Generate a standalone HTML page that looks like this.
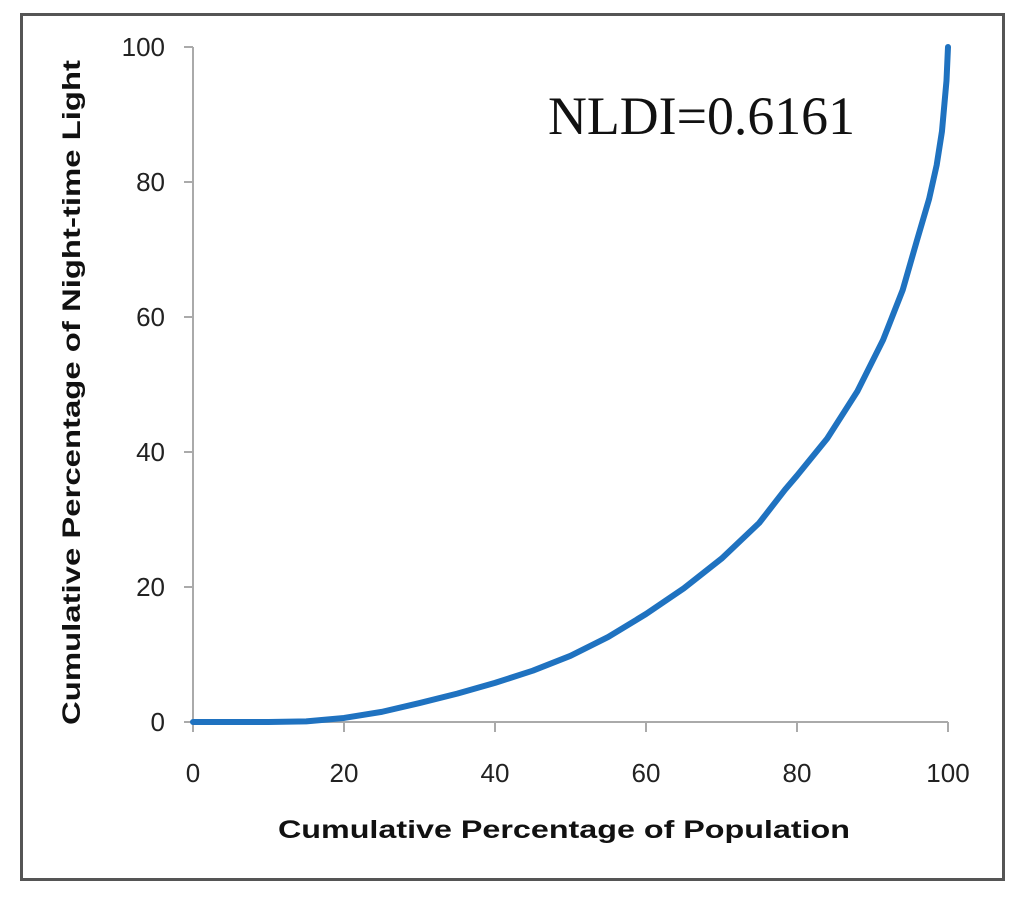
<!DOCTYPE html>
<html><head><meta charset="utf-8"><style>
body{margin:0;background:#fff;width:1024px;height:903px;overflow:hidden}
svg text{font-family:"Liberation Sans",sans-serif}
</style></head><body>
<svg width="1024" height="903">
<rect x="21.5" y="14.5" width="982" height="865" fill="#fff" stroke="#555" stroke-width="3"/>
<g id="axes"></g>
<path id="curve" fill="none" stroke="#1f72c0" stroke-width="6" stroke-linejoin="round" stroke-linecap="round"/>
<text x="548" y="134" style="font-family:'Liberation Serif',serif" font-size="54" textLength="307" lengthAdjust="spacingAndGlyphs" fill="#111">NLDI=0.6161</text>
<text x="278" y="838" font-size="25" font-weight="bold" textLength="572" lengthAdjust="spacingAndGlyphs" fill="#111">Cumulative Percentage of Population</text>
<text transform="translate(80,725) rotate(-90)" font-size="25" font-weight="bold" textLength="665" lengthAdjust="spacingAndGlyphs" fill="#111">Cumulative Percentage of Night-time Light</text>
</svg>
<script>
const xTicks=[0,20,40,60,80,100];
const yTicks=[0,20,40,60,80,100];
const popPct=[0,5,10,15,20,25,30,35,40,45,50,55,60,65,70,75,78.4,80,84,88,91.4,94,95.9,97.5,98.5,99.2,99.8,100];
const lightPct=[0,0,0,0.1,0.6,1.5,2.8,4.2,5.8,7.6,9.8,12.6,16,19.8,24.2,29.5,34.4,36.5,42,49,56.6,64,71.4,77.5,82.5,87.5,95,100];
const X=v=>193+v*(948-193)/100;
const Y=v=>722-v*(722-47)/100;
const ax=document.getElementById('axes');
const ns='http://www.w3.org/2000/svg';
function mk(t,a){const e=document.createElementNS(ns,t);for(const k in a)e.setAttribute(k,a[k]);ax.appendChild(e);return e;}
let e=mk('line',{x1:X(0),y1:Y(100),x2:X(0),y2:Y(0),stroke:'#aaa','stroke-width':2});


e=mk('line',{x1:X(0),y1:Y(0),x2:X(100),y2:Y(0),stroke:'#aaa','stroke-width':2});


xTicks.forEach(t=>{
 let l=mk('line',{x1:X(t),y1:Y(0),x2:X(t),y2:Y(0)+10,stroke:'#aaa','stroke-width':2});
 
 
 let s=mk('text',{x:X(t),y:782,'text-anchor':'middle','font-size':26,fill:'#222'});s.textContent=t;
 
 
});
yTicks.forEach(t=>{
 let l=mk('line',{x1:X(0)-9,y1:Y(t),x2:X(0),y2:Y(t),stroke:'#aaa','stroke-width':2});
 
 
 let s=mk('text',{x:165,y:Y(t)+9,'text-anchor':'end','font-size':26,fill:'#222'});s.textContent=t;
 
 
});
document.getElementById('curve').setAttribute('d',popPct.map((p,i)=>(i?'L':'M')+X(p)+','+Y(lightPct[i])).join(''));
</script>
</body></html>
